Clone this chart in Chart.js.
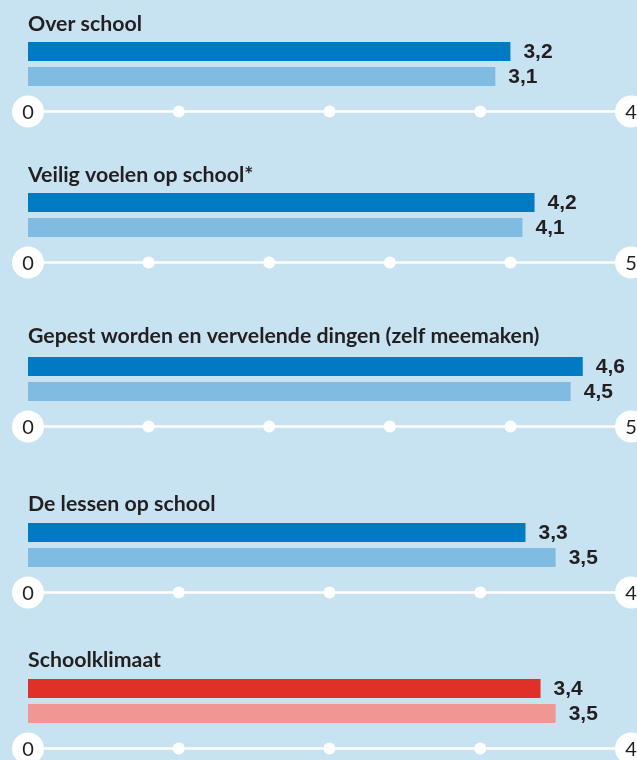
<!DOCTYPE html>
<html>
<head>
<meta charset="utf-8">
<script src="https://cdn.jsdelivr.net/npm/chart.js@4"></script>
<style>
  html, body { margin: 0; padding: 0; background: #C7E3F1; width: 637px; height: 760px; overflow: hidden; }
  .panel { position: absolute; left: 0; width: 637px; height: 131px; }
</style>
</head>
<body>
<div id="wrap"></div>
<script>
// ---- data ----
const titles = [
  'Over school',
  'Veilig voelen op school*',
  'Gepest worden en vervelende dingen (zelf meemaken)',
  'De lessen op school',
  'Schoolklimaat'
];
const seriesLabels = ['School', 'Landelijk'];
const schoolValues = [3.2, 4.2, 4.6, 3.3, 3.4];
const nationalValues = [3.1, 4.1, 4.5, 3.5, 3.5];
const axisMax = [4, 5, 5, 4, 4];
const axisTickLabels = [['0', '4'], ['0', '5'], ['0', '5'], ['0', '4'], ['0', '4']];

// ---- styling / layout ----
const panelTops = [0, 151, 315, 481, 637];
const titleGaps = [11, 11, 14, 12, 12];
const colorsA = ['#007BC3', '#007BC3', '#007BC3', '#007BC3', '#E03128'];
const colorsB = ['#80BCE1', '#80BCE1', '#80BCE1', '#80BCE1', '#F09794'];

const decorPlugin = {
  id: 'decor',
  afterDatasetsDraw(chart, args, opts) {
    const ctx = chart.ctx;
    const area = chart.chartArea;
    const xs = chart.scales.x;
    ctx.save();
    // title
    ctx.fillStyle = '#231F20';
    ctx.font = 'bold 21.3px Lato';
    ctx.textAlign = 'left';
    ctx.textBaseline = 'alphabetic';
    ctx.fillText(opts.title, 28, area.top + 3 - opts.titleGap);

    // value labels
    ctx.font = 'bold 21px "Liberation Sans", Arial';
    ctx.fillStyle = '#231F20';
    ctx.textBaseline = 'middle';
    const meta = chart.getDatasetMeta(0);
    chart.data.datasets[0].data.forEach((v, i) => {
      const bar = meta.data[i];
      ctx.fillText(v.toFixed(1).replace('.', ','), bar.x + 13, bar.y + 1);
    });

    // axis
    const ay = area.bottom + 22.5;
    ctx.strokeStyle = '#FFFFFF';
    ctx.lineWidth = 2.5;
    ctx.beginPath();
    ctx.moveTo(xs.getPixelForValue(0), ay);
    ctx.lineTo(xs.getPixelForValue(opts.max), ay);
    ctx.stroke();
    ctx.fillStyle = '#FFFFFF';
    for (let t = 1; t < opts.max; t++) {
      ctx.beginPath();
      ctx.arc(xs.getPixelForValue(t), ay, 6, 0, Math.PI * 2);
      ctx.fill();
    }
    [0, opts.max].forEach((t, k) => {
      const px = xs.getPixelForValue(t);
      ctx.fillStyle = '#FFFFFF';
      ctx.beginPath();
      ctx.arc(px, ay, 16, 0, Math.PI * 2);
      ctx.fill();
      ctx.fillStyle = '#231F20';
      ctx.font = '20px Lato';
      ctx.textAlign = 'center';
      ctx.textBaseline = 'middle';
      ctx.fillText(opts.tickLabels[k], px, ay + 1);
    });
    ctx.restore();
  }
};

const wrap = document.getElementById('wrap');
titles.forEach((title, i) => {
  const div = document.createElement('div');
  div.className = 'panel';
  div.style.top = panelTops[i] + 'px';
  const cv = document.createElement('canvas');
  cv.width = 637; cv.height = 131;
  cv.style.width = '637px'; cv.style.height = '131px';
  div.appendChild(cv);
  wrap.appendChild(div);
  new Chart(cv, {
    type: 'bar',
    data: {
      labels: seriesLabels,
      datasets: [{
        data: [schoolValues[i], nationalValues[i]],
        backgroundColor: [colorsA[i], colorsB[i]],
        borderWidth: 0,
        categoryPercentage: 1,
        barPercentage: 0.76
      }]
    },
    options: {
      indexAxis: 'y',
      responsive: false,
      animation: false,
      layout: { padding: { left: 28, right: 6, top: 39, bottom: 42 } },
      scales: {
        x: { display: false, min: 0, max: axisMax[i] },
        y: { display: false }
      },
      plugins: {
        legend: { display: false },
        tooltip: { enabled: false },
        decor: { title: title, titleGap: titleGaps[i], max: axisMax[i], tickLabels: axisTickLabels[i] }
      }
    },
    plugins: [decorPlugin]
  });
});
</script>
</body>
</html>
